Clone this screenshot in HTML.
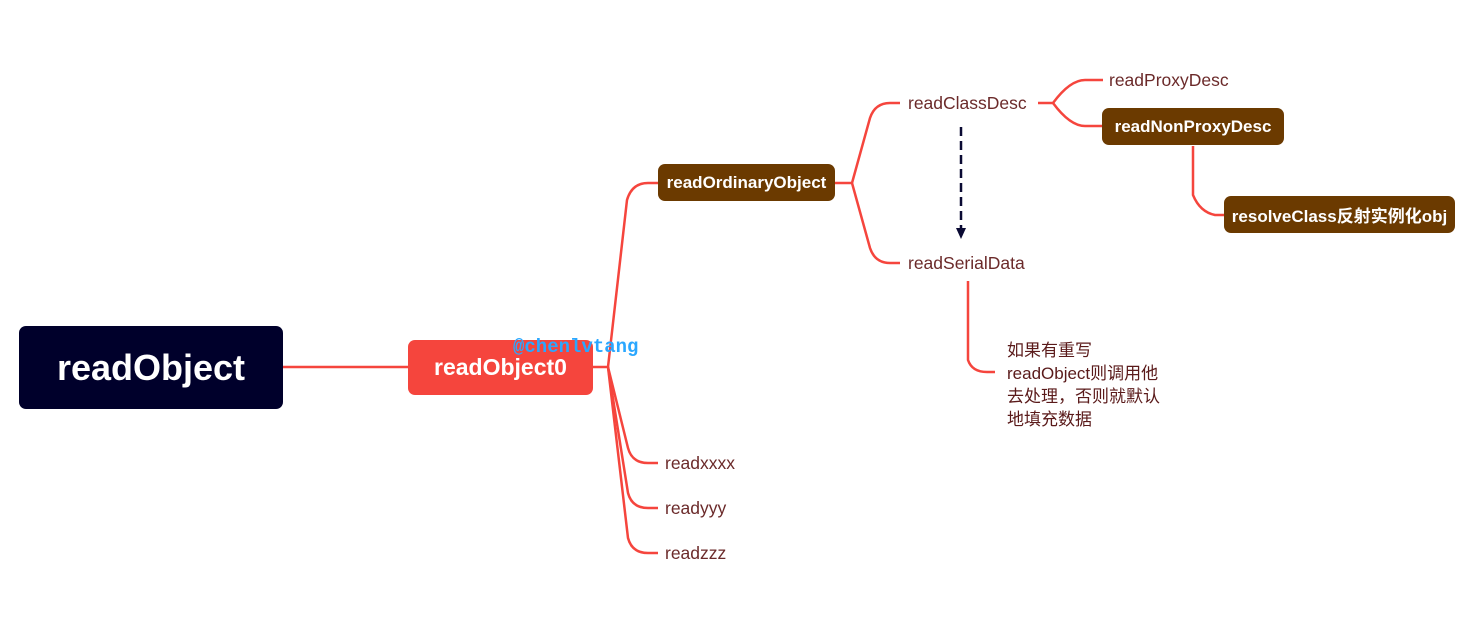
<!DOCTYPE html>
<html><head><meta charset="utf-8"><style>
body{margin:0;width:1483px;height:642px;background:#fff;position:relative;overflow:hidden;font-family:"Liberation Sans","Noto Sans CJK SC",sans-serif}
.n{position:absolute;border-radius:7px;color:#fff;display:flex;align-items:center;justify-content:center;font-weight:bold;white-space:nowrap}
.t{position:absolute;color:#6b2a2a;font-size:17.5px;white-space:nowrap}
</style></head><body>
<svg width="1483" height="642" style="position:absolute;left:0;top:0" fill="none">
<g stroke="#f5453d" stroke-width="2.5">
<path d="M283 367 H408"/>
<path d="M593 367 H608"/>
<path d="M608 367 L627 200 Q632 183 648 183 H658"/>
<path d="M608 367 L628 448 Q632 463 648 463 H658"/>
<path d="M608 367 L628 493 Q632 508 648 508 H658"/>
<path d="M608 367 L628 538 Q632 553 648 553 H658"/>
<path d="M835 183 H852"/>
<path d="M852 183 L870 118 Q875 103 890 103 H900"/>
<path d="M852 183 L870 248 Q875 263 890 263 H900"/>
<path d="M1038 103 H1053"/>
<path d="M1053 103 Q1070 80 1085 80 H1103"/>
<path d="M1053 103 Q1070 126 1085 126 H1103"/>
<path d="M1193 146 V195 Q1200 212 1215 215 H1225"/>
<path d="M968 281 V360 Q972 372 987 372 H995"/>
</g>
<path d="M961 127 V228" stroke="#0a0a33" stroke-width="2.5" stroke-dasharray="9,5"/>
<path d="M956 228 L966 228 L961 239 Z" fill="#0a0a33"/>
</svg>
<div class="n" style="left:19px;top:326px;width:264px;height:83px;background:#00002b;font-size:36px">readObject</div>
<div class="n" style="left:408px;top:340px;width:185px;height:55px;background:#f5453d;font-size:23px">readObject0</div>
<div style="position:absolute;left:513px;top:336px;font-family:'Liberation Mono',monospace;font-size:19px;color:#2aa7ff;font-weight:bold">@chenlvtang</div>
<div class="n" style="left:658px;top:164px;width:177px;height:37px;background:#6b3a00;font-size:17px">readOrdinaryObject</div>
<div class="t" style="left:908px;top:93px">readClassDesc</div>
<div class="t" style="left:908px;top:253px">readSerialData</div>
<div class="t" style="left:1109px;top:70px">readProxyDesc</div>
<div class="n" style="left:1102px;top:108px;width:182px;height:37px;background:#6b3a00;font-size:17px">readNonProxyDesc</div>
<div class="n" style="left:1224px;top:196px;width:231px;height:37px;background:#6b3a00;font-size:17px">resolveClass反射实例化obj</div>
<div class="t" style="left:1007px;top:339px;line-height:23px;white-space:normal;width:180px;color:#5a1a1a;font-size:17px">如果有重写<br>readObject则调用他<br>去处理，否则就默认<br>地填充数据</div>
<div class="t" style="left:665px;top:453px">readxxxx</div>
<div class="t" style="left:665px;top:498px">readyyy</div>
<div class="t" style="left:665px;top:543px">readzzz</div>
</body></html>
